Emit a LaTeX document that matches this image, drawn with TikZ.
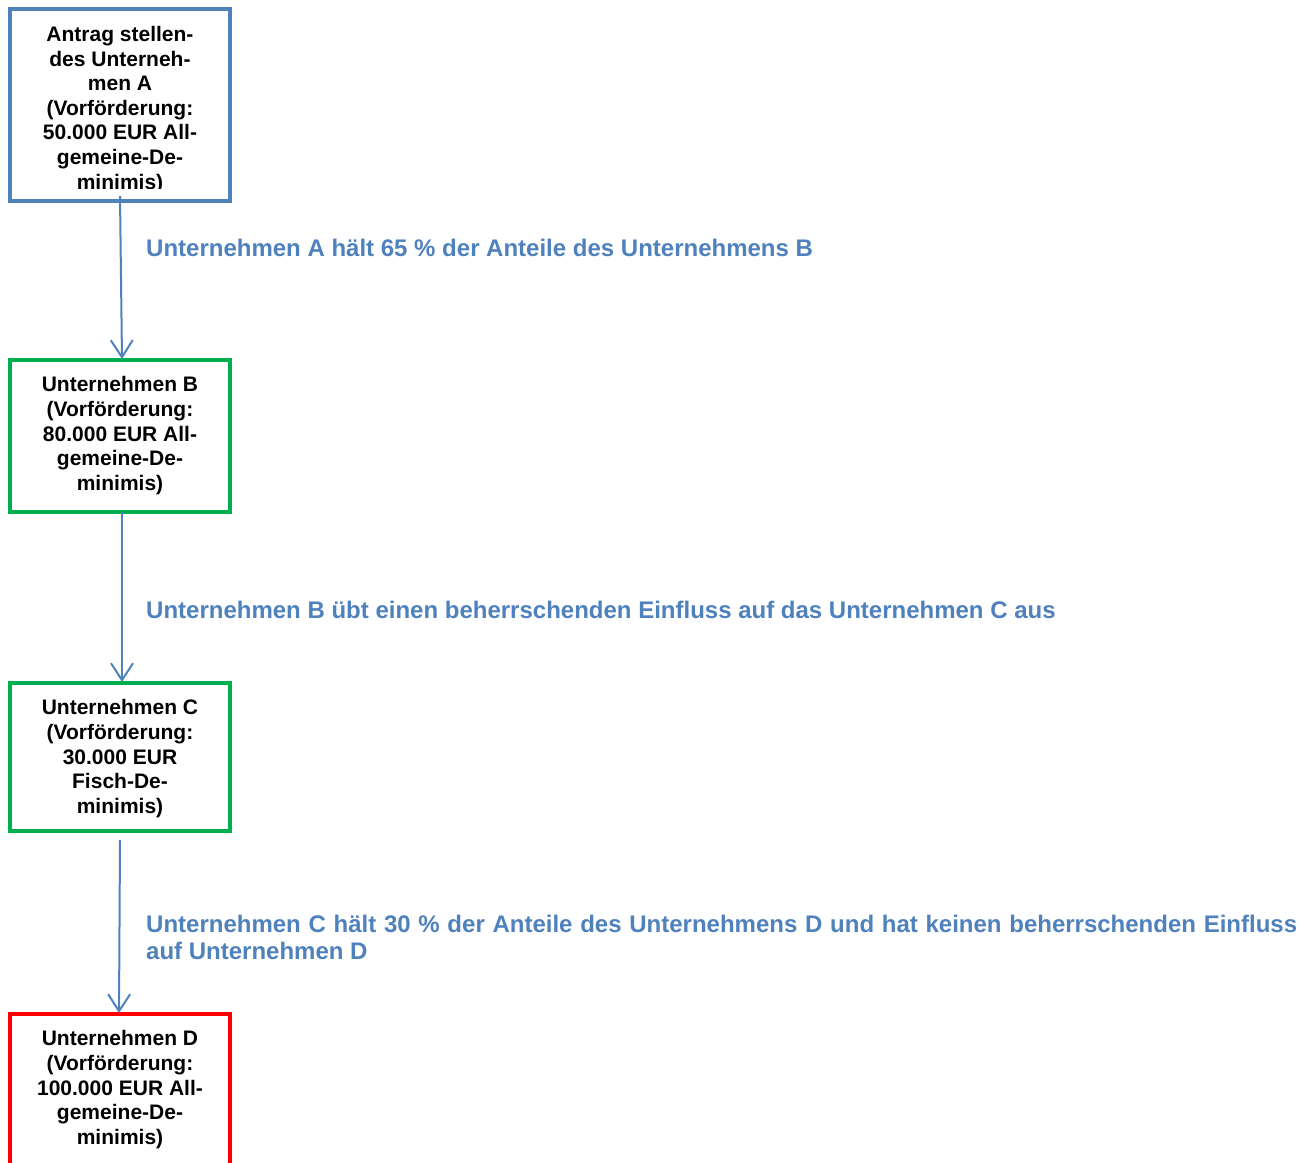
\documentclass[tikz,border=0pt]{standalone}
\usepackage{fontspec}
\setmainfont{Liberation Sans}
\usetikzlibrary{arrows.meta}
\definecolor{accblue}{HTML}{4F81BD}
\definecolor{accgreen}{HTML}{00B050}
\definecolor{accred}{HTML}{FF0000}
\begin{document}
\begin{tikzpicture}[x=1pt,y=-1pt,
  box/.style={draw, line width=4pt, rectangle, minimum width=220pt, inner sep=0pt, outer sep=0pt, anchor=north west},
  boxtext/.style={font=\fontsize{21}{24.6}\selectfont\bfseries, align=center, inner sep=0pt, anchor=north},
  lbl/.style={font=\fontsize{24}{27}\selectfont\bfseries, text=accblue, inner sep=0pt},
  conn/.style={draw=accblue, line width=2pt, -{Straight Barb[length=17pt,width=22pt]}}]
\useasboundingbox (0,0) rectangle (1314,1162);
% boxes
\node[box, draw=accblue, minimum height=192pt] (A) at (10,9) {};
\node[box, draw=accgreen, minimum height=152pt] (B) at (10,360) {};
\node[box, draw=accgreen, minimum height=148pt] (C) at (10,683) {};
\node[box, draw=accred, minimum height=170pt] (D) at (10,1014) {};
% box texts
\begin{scope}
  \clip (12,11) rectangle (228,188);
  \node[boxtext] (Atxt) at ([yshift=-17pt]A.north) {Antrag stellen-\\des Unterneh-\\men A\\(Vorförderung:\\50.000 EUR All-\\gemeine-De-\\minimis)};
\end{scope}
\node[boxtext] (Btxt) at ([yshift=-16.5pt]B.north) {Unternehmen B\\(Vorförderung:\\80.000 EUR All-\\gemeine-De-\\minimis)};
\node[boxtext] (Ctxt) at ([yshift=-16.5pt]C.north) {Unternehmen C\\(Vorförderung:\\30.000 EUR\\Fisch-De-\\minimis)};
\node[boxtext] (Dtxt) at ([yshift=-16.5pt]D.north) {Unternehmen D\\(Vorförderung:\\100.000 EUR All-\\gemeine-De-\\minimis)};
% connectors
\draw[conn] ([yshift=5pt]A.south) -- ([xshift=2pt,yshift=1pt]B.north);
\draw[conn] ([xshift=2pt]B.south) -- ([xshift=2pt,yshift=1pt]C.north);
\draw[conn] ([yshift=-9pt]C.south) -- ([xshift=-1pt,yshift=1pt]D.north);
% labels
\node[lbl, anchor=base west] (L1) at (146,256.5) {Unternehmen A hält 65 \% der Anteile des Unternehmens B};
\node[lbl, anchor=base west] (L2) at (146,618.5) {Unternehmen B übt einen beherrschenden Einfluss auf das Unternehmen C aus};
\node[lbl, anchor=north west, text width=1151pt, align=justify] (L3) at (146,914.5) {Unternehmen C hält 30 \% der Anteile des Unternehmens D und hat keinen beherrschenden Einfluss\linebreak auf Unternehmen D};
\end{tikzpicture}
\end{document}
